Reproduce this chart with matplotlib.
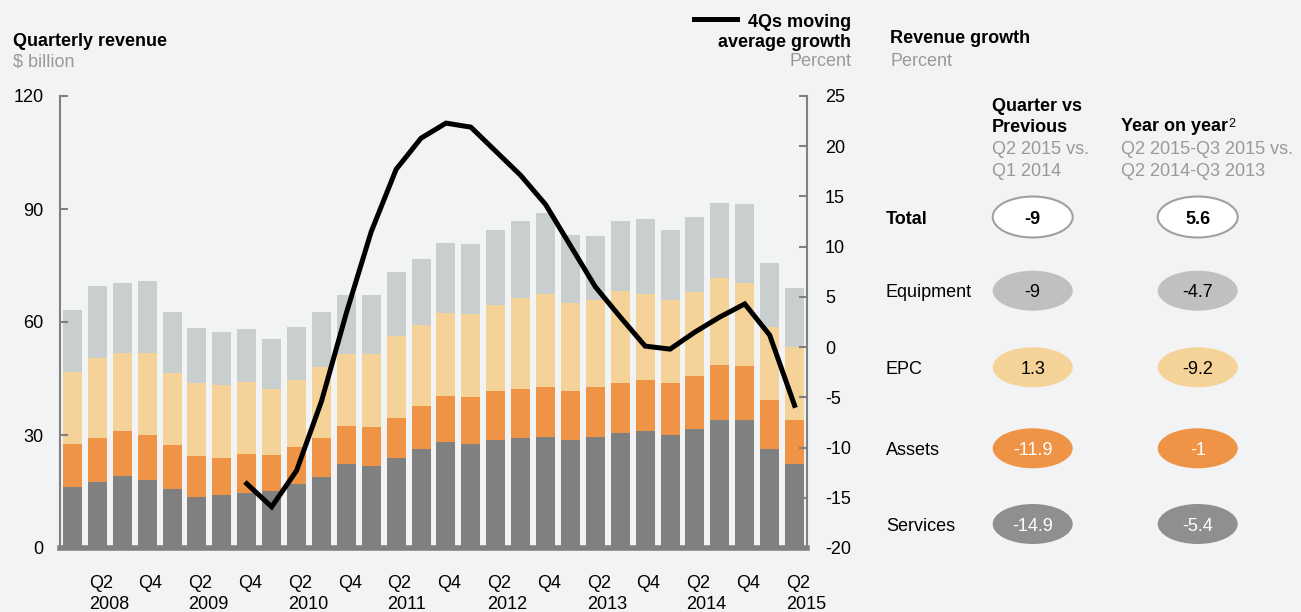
import matplotlib
matplotlib.use("Agg")
import matplotlib.pyplot as plt
from matplotlib.patches import Ellipse
from matplotlib.lines import Line2D

plt.rcParams['font.family'] = ['Liberation Sans', 'DejaVu Sans']
plt.rcParams['axes.unicode_minus'] = False

W, H = 1301, 612
BG = '#f2f3f5'

# quarterly revenue by segment, $ billion, Q1 2008 .. Q2 2015
years = [2008, 2009, 2010, 2011, 2012, 2013, 2014, 2015]
quarters = [f"Q{q}" for y in years for q in (1, 2, 3, 4)][:30]
quarter_years = [y for y in years for q in (1, 2, 3, 4)][:30]

services = [16.2, 17.5, 19.1, 18.1, 15.7, 13.5, 14.0, 14.5, 15.1, 17.0,
            18.9, 22.3, 21.8, 23.9, 26.3, 28.1, 27.6, 28.7, 29.2, 29.5,
            28.7, 29.5, 30.5, 31.1, 30.0, 31.6, 34.0, 34.0, 26.3, 22.3]
assets = [11.4, 11.8, 12.0, 11.9, 11.6, 10.9, 9.9, 10.4, 9.6, 9.8,
          10.3, 10.1, 10.3, 10.6, 11.4, 12.3, 12.5, 13.0, 13.0, 13.2,
          13.0, 13.2, 13.3, 13.5, 13.8, 14.1, 14.6, 14.3, 13.0, 11.7]
epc = [19.2, 21.2, 20.7, 21.8, 19.2, 19.4, 19.4, 19.3, 17.5, 17.8,
       18.8, 19.2, 19.5, 21.8, 21.5, 22.0, 22.0, 22.8, 24.3, 24.7,
       23.3, 23.1, 24.4, 22.8, 22.0, 22.3, 23.1, 22.0, 19.4, 19.4]
equipment = [16.4, 19.1, 18.5, 19.1, 16.2, 14.6, 14.0, 13.9, 13.3, 14.1,
             14.7, 15.6, 15.6, 17.0, 17.5, 18.6, 18.6, 19.9, 20.3, 21.5,
             18.1, 17.0, 18.6, 19.9, 18.6, 19.9, 19.9, 21.0, 17.0, 15.6]

# 4Qs moving average growth, percent, starts at Q4 2008
growth_start = 7
growth = [-13.6, -15.9, -12.3, -5.4, 3.4, 11.5, 17.7, 20.8, 22.3, 21.9,
          19.5, 17.1, 14.2, 10.1, 6.0, 3.0, 0.1, -0.2, 1.5, 3.0,
          4.3, 1.2, -5.8]

# right-hand panel
segments = ['Total', 'Equipment', 'EPC', 'Assets', 'Services']
qoq = ['-9', '-9', '1.3', '-11.9', '-14.9']
yoy = ['5.6', '-4.7', '-9.2', '-1', '-5.4']

c_services = '#808080'
c_assets = '#ef9346'
c_epc = '#f5d297'
c_equip = '#c9cecf'
pill_fill = ['white', '#c0c0c0', '#f5d398', '#ef9346', '#8f8f8f']
pill_text = ['black', 'black', 'black', 'white', 'white']

fig = plt.figure(figsize=(W / 100, H / 100), dpi=100, facecolor=BG)
ax = fig.add_axes([60 / W, 1 - 548 / H, (807 - 60) / W, (548 - 96) / H])
ax.set_facecolor(BG)

x = list(range(len(services)))
bw = 0.76
b1 = services
b2 = [a + b for a, b in zip(b1, assets)]
b3 = [a + b for a, b in zip(b2, epc)]
ax.bar(x, services, bw, color=c_services, zorder=1)
ax.bar(x, assets, bw, bottom=b1, color=c_assets, zorder=1)
ax.bar(x, epc, bw, bottom=b2, color=c_epc, zorder=1)
ax.bar(x, equipment, bw, bottom=b3, color=c_equip, zorder=1)

ax.set_xlim(-0.5, 29.5)
ax.set_ylim(0, 120)
ax.set_yticks([0, 30, 60, 90, 120])
ax.set_xticks([])
ax.tick_params(axis='y', direction='in', length=6, width=1.5, color='#808080',
               labelsize=13, pad=12)
for s in ('top', 'right'):
    ax.spines[s].set_visible(False)
ax.spines['left'].set_color('#808080')
ax.spines['left'].set_linewidth(1.5)
ax.spines['bottom'].set_color('#808080')
ax.spines['bottom'].set_linewidth(4)
ax.spines['bottom'].set_capstyle('projecting')

ax2 = ax.twinx()
ax2.plot(range(growth_start, growth_start + len(growth)), growth,
         color='black', lw=3.6, solid_joinstyle='miter')
ax2.set_ylim(-20, 25)
ax2.set_yticks(range(-20, 26, 5))
ax2.tick_params(axis='y', direction='in', length=6, width=1.5, color='#808080',
                labelsize=13, pad=13)
for s in ('top', 'left', 'bottom'):
    ax2.spines[s].set_visible(False)
ax2.spines['right'].set_color('#808080')
ax2.spines['right'].set_linewidth(1.5)


# quarter labels under the bars
def ypx(y):
    return (548 - y) / 452


tr = ax.get_xaxis_transform()
for i, (q, yr) in enumerate(zip(quarters, quarter_years)):
    if q in ('Q2', 'Q4'):
        ax.text(i - 0.35, ypx(588), q, transform=tr, ha='left', va='baseline',
                fontsize=13, clip_on=False)
    if q == 'Q2':
        ax.text(i - 0.35, ypx(609), str(yr), transform=tr, ha='left',
                va='baseline', fontsize=13, clip_on=False)


def ftext(px, py, s, **kw):
    kw.setdefault('fontsize', 13)
    kw.setdefault('va', 'baseline')
    return fig.text(px / W, 1 - py / H, s, **kw)


GRAY = '#999999'
ftext(13, 46, 'Quarterly revenue', fontweight='bold')
ftext(13, 66, '$ billion', color=GRAY)
ftext(851, 26.7, '4Qs moving', fontweight='bold', ha='right')
ftext(851, 46.7, 'average growth', fontweight='bold', ha='right')
ftext(851, 66, 'Percent', color=GRAY, ha='right')
fig.add_artist(Line2D([694 / W, 737 / W], [1 - 18.5 / H, 1 - 18.5 / H],
                      color='black', lw=3.6))

ftext(890, 43.3, 'Revenue growth', fontweight='bold')
ftext(890, 66, 'Percent', color=GRAY)
ftext(991.5, 110.7, 'Quarter vs', fontweight='bold')
ftext(991.5, 132.3, 'Previous', fontweight='bold')
ftext(991.5, 154, 'Q2 2015 vs.', color=GRAY)
ftext(991.5, 175.7, 'Q1 2014', color=GRAY)
t = ftext(1121, 130.7, 'Year on year', fontweight='bold')
ax.annotate('2', xy=(1.0, 1.0), xycoords=t, xytext=(0, 0),
            textcoords='offset points', ha='left', va='top', fontsize=9,
            annotation_clip=False)
ftext(1121, 154, 'Q2 2015-Q3 2015 vs.', color=GRAY)
ftext(1121, 175.7, 'Q2 2014-Q3 2013', color=GRAY)

row_y = [217, 290.7, 367.3, 448.3, 524]
for i, (seg, a, b) in enumerate(zip(segments, qoq, yoy)):
    cy = row_y[i]
    bold = 'bold' if i == 0 else 'normal'
    ftext(886, cy + 6.7, seg, fontweight=bold)
    for cx, val in ((1032.7, a), (1197.7, b)):
        e = Ellipse((cx / W, 1 - cy / H), 80 / W, (41 if i == 0 else 40) / H,
                    transform=fig.transFigure, facecolor=pill_fill[i],
                    edgecolor='#a0a0a0' if i == 0 else 'none', lw=1.5)
        fig.add_artist(e)
        ftext(cx, cy + 6.7, val, ha='center', color=pill_text[i],
              fontweight=bold)

fig.savefig('out.png', dpi=100, facecolor=BG)
